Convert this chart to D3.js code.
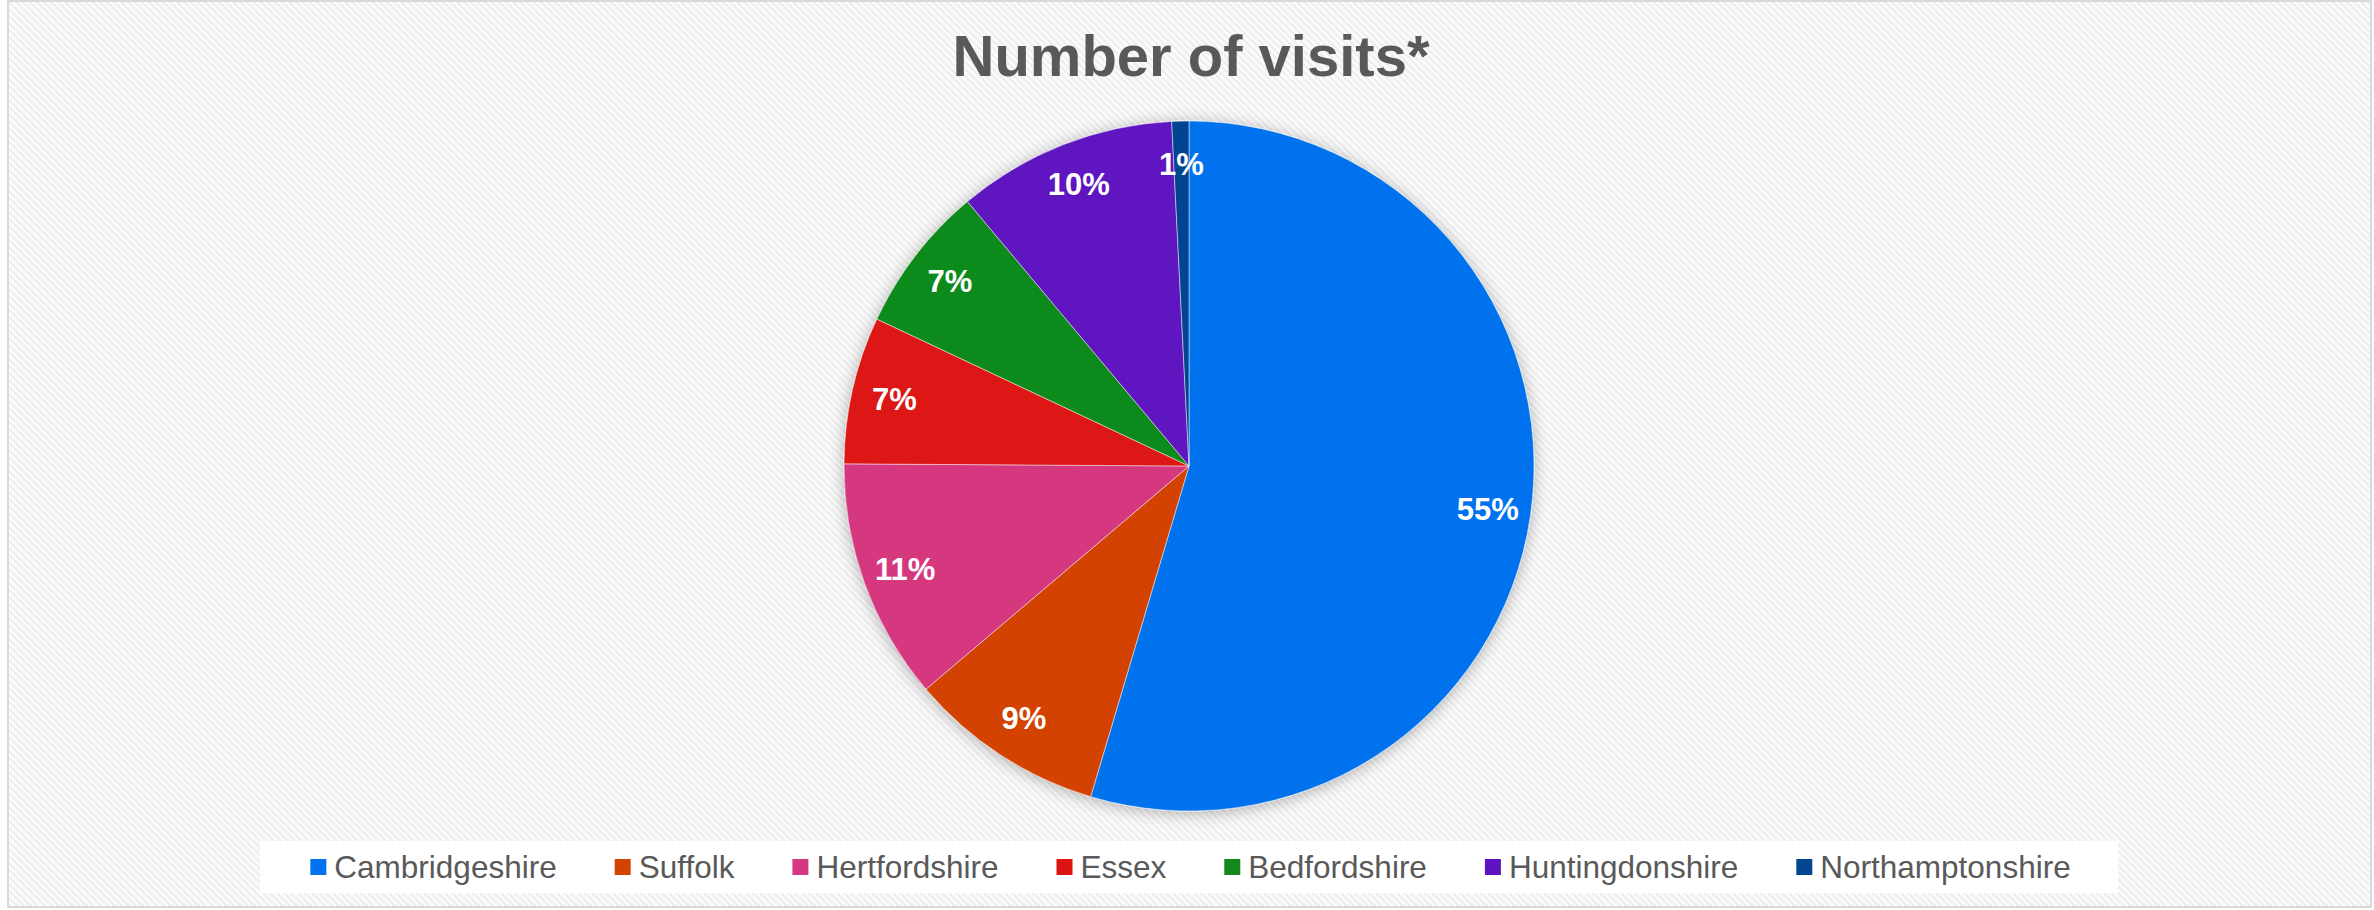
<!DOCTYPE html>
<html>
<head>
<meta charset="utf-8">
<script src="https://cdn.jsdelivr.net/npm/d3@7"></script>
<style>
  html, body { margin: 0; padding: 0; background: #ffffff; }
  svg { display: block; }
</style>
</head>
<body>
<svg id="chart" width="2374" height="910"></svg>
<script>
// ---- data ----
const categories = ["Cambridgeshire", "Suffolk", "Hertfordshire", "Essex", "Bedfordshire", "Huntingdonshire", "Northamptonshire"];
const values = [54.6, 9.2, 11.3, 6.9, 6.9, 10.3, 0.8];
const colors = ["#0072EE", "#D34300", "#D5387F", "#DD1313", "#118A1B", "#5E12C0", "#034591"];
const title = "Number of visits*";

// ---- layout ----
const W = 2374, H = 910;
const cx = 1189, cy = 466, R = 345, labelR = 302;
const font = "'Liberation Sans', Arial, Helvetica, sans-serif";

const svg = d3.select("#chart");
const defs = svg.append("defs");

const pat = defs.append("pattern")
  .attr("id", "diag").attr("patternUnits", "userSpaceOnUse")
  .attr("width", 7).attr("height", 7);
pat.append("rect").attr("width", 7).attr("height", 7).attr("fill", "#fcfcfc");
pat.append("path").attr("d", "M-1,-1 L8,8 M-1,6 L1,8 M6,-1 L8,1")
  .attr("stroke", "#efefef").attr("stroke-width", 2.4);

const shadow = defs.append("filter").attr("id", "shadow")
  .attr("x", "-20%").attr("y", "-20%").attr("width", "140%").attr("height", "140%");
shadow.append("feDropShadow").attr("dx", 0).attr("dy", 2)
  .attr("stdDeviation", 8).attr("flood-color", "#000").attr("flood-opacity", 0.3);

// chart area
svg.append("rect").attr("x", 8).attr("y", 1).attr("width", 2363).attr("height", 906)
  .attr("fill", "url(#diag)").attr("stroke", "#d9d9d9").attr("stroke-width", 2);

// title
svg.append("text").attr("x", 1191).attr("y", 76)
  .attr("text-anchor", "middle")
  .attr("font-family", font).attr("font-weight", "bold").attr("font-size", 58)
  .attr("fill", "#595959").text(title);

// pie
const data = categories.map((c, i) => ({ name: c, value: values[i], color: colors[i] }));
const pie = d3.pie().value(d => d.value).sort(null);
const arcs = pie(data);
const arc = d3.arc().innerRadius(0).outerRadius(R);
const labelArc = d3.arc().innerRadius(labelR).outerRadius(labelR);

const g = svg.append("g").attr("transform", `translate(${cx},${cy})`);
g.append("g").attr("filter", "url(#shadow)")
  .selectAll("path").data(arcs).join("path")
  .attr("d", arc).attr("fill", d => d.data.color)
  .attr("stroke", "#ffffff").attr("stroke-width", 0.8).attr("stroke-opacity", 0.6);

g.selectAll("text.lbl").data(arcs).join("text").attr("class", "lbl")
  .attr("transform", d => `translate(${labelArc.centroid(d)})`)
  .attr("text-anchor", "middle").attr("dominant-baseline", "central")
  .attr("font-family", font).attr("font-weight", "bold").attr("font-size", 31)
  .attr("fill", "#ffffff")
  .text(d => Math.round(d.data.value) + "%");

// legend
svg.append("rect").attr("x", 260).attr("y", 841).attr("width", 1858).attr("height", 52)
  .attr("fill", "#ffffff");
const lg = svg.append("g");
const items = lg.selectAll("g").data(data).join("g");
items.append("rect").attr("width", 16).attr("height", 16).attr("y", -8)
  .attr("fill", d => d.color);
const txt = items.append("text").attr("x", 24).attr("y", 0)
  .attr("dominant-baseline", "central")
  .attr("font-family", font).attr("font-size", 31.5).attr("fill", "#595959")
  .text(d => d.name);
const widths = [];
txt.each(function() { widths.push(this.getComputedTextLength()); });
const gap = 58;
let total = 0;
widths.forEach((w, i) => { total += 24 + w + (i < widths.length - 1 ? gap : 0); });
let x0 = 1190.5 - total / 2;
const xs = [];
widths.forEach((w) => { xs.push(x0); x0 += 24 + w + gap; });
items.attr("transform", (d, i) => `translate(${xs[i]},867)`);
</script>
</body>
</html>
